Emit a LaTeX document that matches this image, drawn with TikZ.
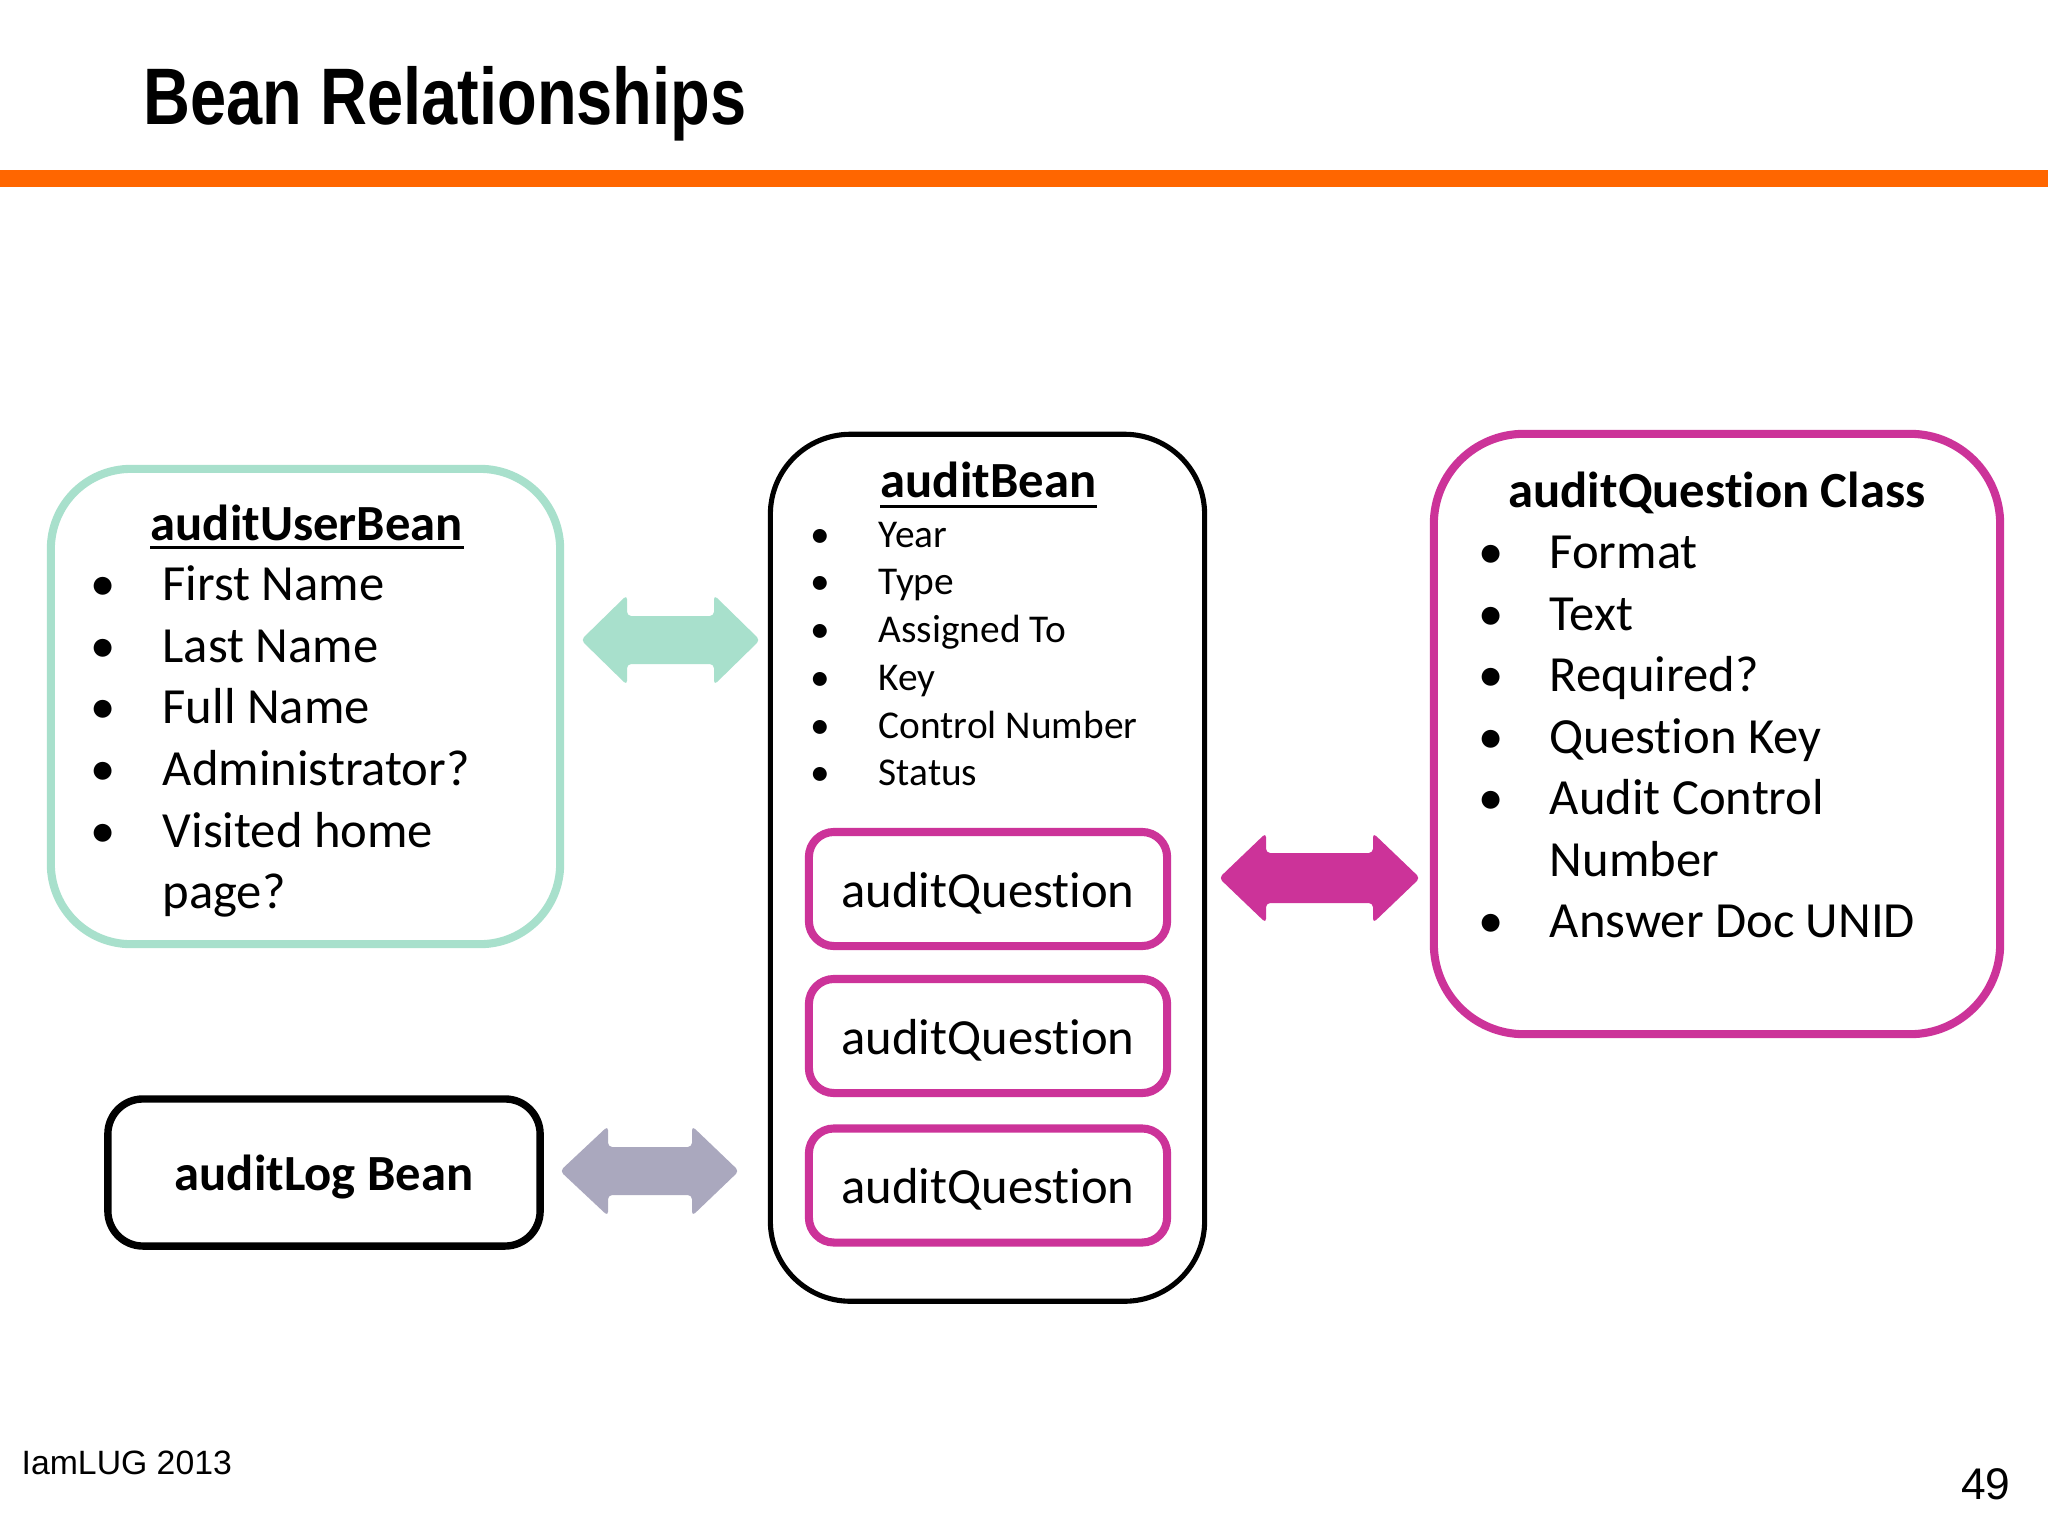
\documentclass[tikz,border=0pt]{standalone}
\usepackage{graphicx}
\usepackage{fontspec}
\setmainfont[Ligatures=NoCommon]{Carlito}
\newfontfamily\arialf{Liberation Sans}
\usetikzlibrary{positioning}
\definecolor{mint}{RGB}{168,224,204}
\definecolor{magentab}{RGB}{204,51,153}
\definecolor{grayarrow}{RGB}{170,168,190}
\definecolor{barorange}{RGB}{255,102,0}
\tikzset{
  big/.style={font=\fontsize{14.4}{17}\selectfont, inner sep=0pt},
  small/.style={font=\fontsize{11.2}{13.5}\selectfont, inner sep=0pt},
  itemtext/.style={anchor=base west},
  dotb/.style={anchor=base},
  ulbar/.style={line width=0.85pt},
  bigbox/.style={rounded corners=0.8cm, inner sep=0pt},
  qbox/.style={draw=magentab, line width=2.3pt, rounded corners=0.25cm, minimum width=3.58cm, minimum height=1.14cm, inner sep=0pt},
  blockarrow/.style={rounded corners=1.2pt}
}
\begin{document}
\begin{tikzpicture}[x=0.01cm,y=-0.01cm]
\fill[white] (0,0) rectangle (2048,1536);
\useasboundingbox (0,0) rectangle (2048,1536);

% title and bar
\node[anchor=base west, inner sep=0pt, font=\arialf\bfseries\fontsize{22.8}{27}\selectfont] (title) at (143,124) {\scalebox{0.81}[1]{Bean Relationships}};
\fill[barorange] (0,170) rectangle (2048,187);

% boxes
\node[bigbox, draw=mint, line width=2.3pt, minimum width=5.09cm, minimum height=4.75cm] (user) at (305.5,706.5) {};
\node[bigbox, draw=black, line width=1.45pt, minimum width=4.34cm, minimum height=8.665cm] (bean) at (987.5,867.75) {};
\node[bigbox, draw=magentab, line width=2.3pt, rounded corners=0.9cm, minimum width=5.66cm, minimum height=6.0cm] (qclass) at (1717,734) {};
\node[draw=black, line width=2.1pt, rounded corners=0.35cm, minimum width=4.32cm, minimum height=1.47cm, inner sep=0pt] (log) at (324,1172.5) {};
\node[qbox] (q1) at (988,889) {};
\node[qbox] (q2) at (988,1036) {};
\node[qbox] (q3) at (988,1185.5) {};

% auditUserBean content
\node[big, anchor=base west] (ut) at (150,540) {\bfseries auditUserBean};
\draw[ulbar] ([yshift=-0.075cm]ut.base west) -- ([yshift=-0.075cm]ut.base east);
\node[big, dotb] (ub1) at (103,600) {\textbullet};
\node[big, itemtext] (ui1) at (162,600) {First Name};
\node[big, dotb] (ub2) at (103,662) {\textbullet};
\node[big, itemtext] (ui2) at (162,662) {Last Name};
\node[big, dotb] (ub3) at (103,723) {\textbullet};
\node[big, itemtext] (ui3) at (162,723) {Full Name};
\node[big, dotb] (ub4) at (103,785) {\textbullet};
\node[big, itemtext] (ui4) at (162,785) {Administrator?};
\node[big, dotb] (ub5) at (103,847) {\textbullet};
\node[big, itemtext] (ui5) at (162,847) {Visited home};
\node[big, itemtext] (ui6) at (162,908) {page?};

% auditBean content
\node[big, anchor=base west] (bt) at (880,497) {\bfseries auditBean};
\draw[ulbar] ([yshift=-0.095cm]bt.base west) -- ([yshift=-0.095cm]bt.base east);
\node[small, dotb] (bb1) at (820,547) {\textbullet};
\node[small, itemtext] (bi1) at (878,547) {Year};
\node[small, dotb] (bb2) at (820,594) {\textbullet};
\node[small, itemtext] (bi2) at (878,594) {Type};
\node[small, dotb] (bb3) at (820,642) {\textbullet};
\node[small, itemtext] (bi3) at (878,642) {Assigned To};
\node[small, dotb] (bb4) at (820,690) {\textbullet};
\node[small, itemtext] (bi4) at (878,690) {Key};
\node[small, dotb] (bb5) at (820,738) {\textbullet};
\node[small, itemtext] (bi5) at (878,738) {Control Number};
\node[small, dotb] (bb6) at (820,785) {\textbullet};
\node[small, itemtext] (bi6) at (878,785) {Status};

\node[big, anchor=base] (q1t) at (988,907) {auditQuestion};
\node[big, anchor=base] (q2t) at (988,1054) {auditQuestion};
\node[big, anchor=base] (q3t) at (988,1203) {auditQuestion};

% auditQuestion Class content
\node[big, anchor=base] (ct) at (1717,507) {\bfseries auditQuestion Class};
\node[big, dotb] (cb1) at (1491,568) {\textbullet};
\node[big, itemtext] (ci1) at (1549,568) {Format};
\node[big, dotb] (cb2) at (1491,630) {\textbullet};
\node[big, itemtext] (ci2) at (1549,630) {Text};
\node[big, dotb] (cb3) at (1491,691) {\textbullet};
\node[big, itemtext] (ci3) at (1549,691) {Required?};
\node[big, dotb] (cb4) at (1491,753) {\textbullet};
\node[big, itemtext] (ci4) at (1549,753) {Question Key};
\node[big, dotb] (cb5) at (1491,814) {\textbullet};
\node[big, itemtext] (ci5) at (1549,814) {Audit Control};
\node[big, itemtext] (ci6) at (1549,876) {Number};
\node[big, dotb] (cb7) at (1491,937) {\textbullet};
\node[big, itemtext] (ci7) at (1549,937) {Answer Doc UNID};

% auditLog
\node[big, anchor=base] (lt) at (324,1190) {\bfseries auditLog Bean};

% block arrows
\fill[mint, blockarrow] (581,640) -- (627,595) -- (627,616) -- (714,616) -- (714,595) -- (760,640)
  -- (714,685) -- (714,664) -- (627,664) -- (627,685) -- cycle;
\fill[grayarrow, blockarrow] (560,1171) -- (608,1126) -- (608,1147) -- (692,1147) -- (692,1126) -- (739,1171)
  -- (692,1216) -- (692,1195) -- (608,1195) -- (608,1216) -- cycle;
\fill[magentab, blockarrow] (1219,878) -- (1266,833) -- (1266,853) -- (1373,853) -- (1373,833) -- (1420,878)
  -- (1373,923) -- (1373,903) -- (1266,903) -- (1266,923) -- cycle;

% footer
\node[anchor=base west, inner sep=0pt, font=\arialf\fontsize{9.6}{11}\selectfont] (foot) at (21,1474) {IamLUG 2013};
\node[anchor=base east, inner sep=0pt, font=\arialf\fontsize{12.6}{15}\selectfont] (page) at (2011,1499) {49};
\end{tikzpicture}
\end{document}
